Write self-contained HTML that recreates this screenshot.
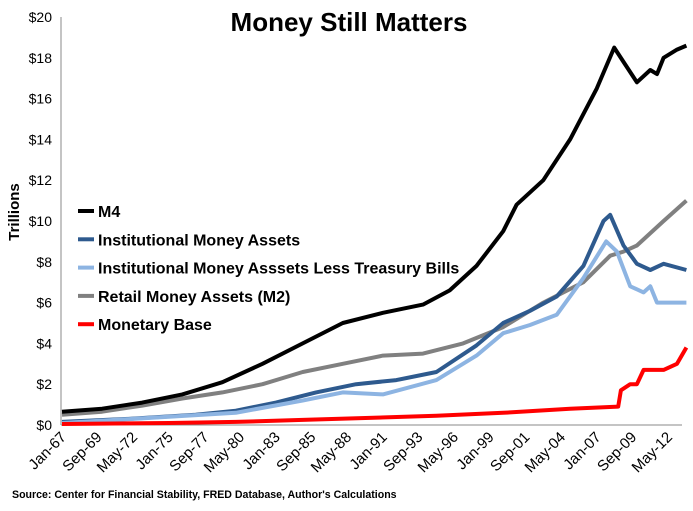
<!DOCTYPE html>
<html><head><meta charset="utf-8"><style>
body{margin:0;background:#fff;}
svg text{font-family:"Liberation Sans",sans-serif;}
</style></head><body>
<svg width="693" height="506" viewBox="0 0 693 506">
<text x="349" y="31" text-anchor="middle" font-size="26" font-weight="bold">Money Still Matters</text>
<text transform="translate(19,212) rotate(-90)" text-anchor="middle" font-size="15" font-weight="bold">Trillions</text>
<g id="yticks"></g><g id="xticks"></g>
<line x1="61" y1="425" x2="682" y2="425" stroke="#888" stroke-width="1"/>
<line x1="61" y1="17" x2="61" y2="425" stroke="#888" stroke-width="1"/>
<g id="series"></g>
<g id="legend"></g>
<text x="12" y="498" font-size="10.6" font-weight="bold">Source:  Center for Financial Stability, FRED Database, Author's Calculations</text>
</svg>
<script>
const yTicks=[0,2,4,6,8,10,12,14,16,18,20];
const xLabels=["Jan-67","Sep-69","May-72","Jan-75","Sep-77","May-80","Jan-83","Sep-85","May-88","Jan-91","Sep-93","May-96","Jan-99","Sep-01","May-04","Jan-07","Sep-09","May-12"];
const m4Years=[1967,1970,1973,1976,1979,1982,1985,1988,1991,1994,1996,1998,2000,2001,2003,2005,2007,2008.3,2009,2010,2011,2011.5,2012,2013,2013.7];
const m4Vals=[0.65,0.8,1.1,1.5,2.1,3.0,4.0,5.0,5.5,5.9,6.6,7.8,9.5,10.8,12.0,14.0,16.5,18.5,17.8,16.8,17.4,17.2,18.0,18.4,18.6];
const instYears=[1967,1972,1977,1980,1983,1986,1989,1992,1995,1998,2000,2002,2004,2006,2007.5,2008,2009,2010,2011,2012,2013.7];
const instVals=[0.15,0.3,0.5,0.7,1.1,1.6,2.0,2.2,2.6,3.9,5.0,5.6,6.3,7.8,10.0,10.3,8.8,7.9,7.6,7.9,7.6];
const lessYears=[1967,1975,1980,1985,1988,1991,1995,1998,2000,2002,2004,2006,2007.7,2008.5,2009.5,2010.5,2011,2011.5,2013.7];
const lessVals=[0.1,0.4,0.6,1.2,1.6,1.5,2.2,3.4,4.5,4.9,5.4,7.2,9.0,8.5,6.8,6.5,6.8,6.0,6.0];
const m2Years=[1967,1970,1973,1976,1979,1982,1985,1988,1991,1994,1997,2000,2003,2006,2008,2009,2010,2012,2013.7];
const m2Vals=[0.5,0.65,0.95,1.3,1.6,2.0,2.6,3.0,3.4,3.5,4.0,4.8,6.0,7.0,8.3,8.5,8.8,10.0,11.0];
const baseYears=[1967,1975,1980,1985,1990,1995,2000,2005,2008.6,2008.8,2009.5,2010,2010.5,2012,2013,2013.7];
const baseVals=[0.05,0.1,0.15,0.25,0.35,0.45,0.6,0.8,0.9,1.7,2.0,2.0,2.7,2.7,3.0,3.8];
const NS="http://www.w3.org/2000/svg";
const xS=y=>62+(y-1967)*13.37;
const yS=v=>425-v*20.4;
function mk(t,a,p){const e=document.createElementNS(NS,t);for(const k in a)e.setAttribute(k,a[k]);p.appendChild(e);return e;}
const yt=document.getElementById('yticks');
yTicks.forEach(v=>{const t=mk('text',{x:52,y:yS(v)+5,'text-anchor':'end','font-size':14},yt);t.textContent='$'+v;

});
const xt=document.getElementById('xticks');
xLabels.forEach((l,i)=>{const x=xS(1967+i*32/12);const t=mk('text',{transform:`translate(${x+5},${438}) rotate(-45)`,'text-anchor':'end','font-size':15},xt);t.textContent=l;

});
const S=[["M4",m4Years,m4Vals,"#000000"],["Institutional Money Assets",instYears,instVals,"#2e5a8e"],["Institutional Money Asssets Less Treasury Bills",lessYears,lessVals,"#8db4e2"],["Retail Money Assets (M2)",m2Years,m2Vals,"#808080"],["Monetary Base",baseYears,baseVals,"#ff0000"]];
const sg=document.getElementById('series');
[S[3],S[1],S[2],S[0],S[4]].forEach(s=>{const d=s[1].map((y,i)=>(i?'L':'M')+xS(y).toFixed(1)+','+yS(s[2][i]).toFixed(1)).join('');
const p=mk('path',{d:d,fill:'none',stroke:s[3],'stroke-width':4,'stroke-linejoin':'round'},sg);

});
const lg=document.getElementById('legend');
S.forEach((s,i)=>{const y=211+i*28.3;
const g=mk('g',{},lg);


mk('line',{x1:78,x2:94,y1:y,y2:y,stroke:s[3],'stroke-width':4},g);
const t=mk('text',{x:98,y:y+6,'font-size':16,'font-weight':'bold'},g);t.textContent=s[0];});
</script>
</body></html>
